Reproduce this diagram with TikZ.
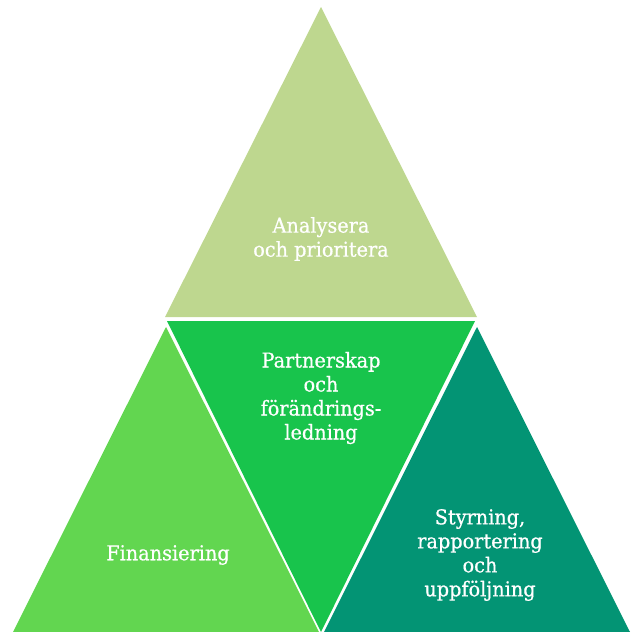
\documentclass[tikz,border=0pt]{standalone}
\usepackage{fontspec}
\setmainfont{DejaVu Serif}[FakeStretch=0.94,FakeBold=0.6]
\definecolor{ctop}{RGB}{190,215,143}
\definecolor{cmid}{RGB}{24,196,76}
\definecolor{cleft}{RGB}{98,214,80}
\definecolor{cright}{RGB}{3,148,116}
\begin{document}
\begin{tikzpicture}[x=1pt,y=-1pt,
  lbl/.style={text=white,align=center,font=\fontsize{20.5}{24}\selectfont,inner sep=0pt}]
\useasboundingbox (0,0) rectangle (633,632);
\fill[ctop] (321,7) -- (477,317) -- (165,317) -- cycle;
\fill[cmid] (167,321) -- (475,321) -- (321,632) -- cycle;
\fill[cleft] (166,327) -- (319,632) -- (13,632) -- cycle;
\fill[cright] (477,327) -- (630,632) -- (324,632) -- cycle;
\node[lbl] (t) at (321,239) {Analysera\\och prioritera};
\node[lbl] (m) at (321,398) {Partnerskap\\och\\förändrings-\\ledning};
\node[lbl] (l) at (168,555) {Finansiering};
\node[lbl] (r) at (480,555) {Styrning,\\rapportering\\och\\uppföljning};
\end{tikzpicture}
\end{document}
